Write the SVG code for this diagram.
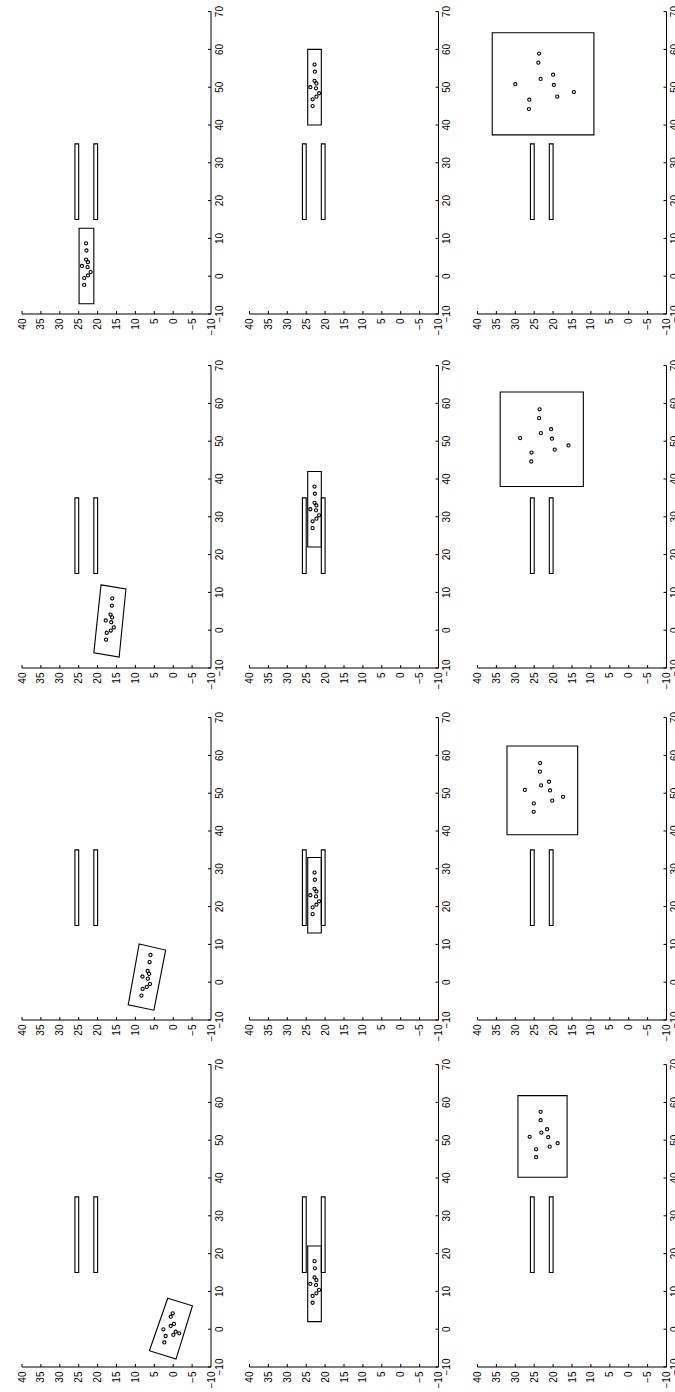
<svg xmlns="http://www.w3.org/2000/svg" xmlns:xlink="http://www.w3.org/1999/xlink" width="675" height="1392" viewBox="0 0 675 1392">
<style>
.ax{stroke:#000;stroke-width:1;fill:none}
.sh{fill:none;stroke:#000;stroke-width:1.1;vector-effect:non-scaling-stroke}
.pt{fill:none;stroke:#000;stroke-width:1.1;vector-effect:non-scaling-stroke}
text{font-family:"Liberation Sans",Arial,sans-serif;font-size:10px;fill:#000}
.xl{text-anchor:middle}
.yl{text-anchor:end}
</style>
<defs>
<g id="axes">
<path class="ax" d="M0,0H302.4M0,0V-189M0,0V-3M37.8,0V-3M75.6,0V-3M113.4,0V-3M151.2,0V-3M189,0V-3M226.8,0V-3M264.6,0V-3M302.4,0V-3M0,-18.9H3M0,-37.8H3M0,-56.7H3M0,-75.6H3M0,-94.5H3M0,-113.4H3M0,-132.3H3M0,-151.2H3M0,-170.1H3M0,-189H3"/>
<text class="xl" x="0" y="11.5">−10</text>
<text class="xl" x="37.8" y="11.5">0</text>
<text class="xl" x="75.6" y="11.5">10</text>
<text class="xl" x="113.4" y="11.5">20</text>
<text class="xl" x="151.2" y="11.5">30</text>
<text class="xl" x="189" y="11.5">40</text>
<text class="xl" x="226.8" y="11.5">50</text>
<text class="xl" x="264.6" y="11.5">60</text>
<text class="xl" x="302.4" y="11.5">70</text>
<text class="yl" x="-4.5" y="3.5">−10</text>
<text class="yl" x="-4.5" y="-15.4">−5</text>
<text class="yl" x="-4.5" y="-34.3">0</text>
<text class="yl" x="-4.5" y="-53.2">5</text>
<text class="yl" x="-4.5" y="-72.1">10</text>
<text class="yl" x="-4.5" y="-91">15</text>
<text class="yl" x="-4.5" y="-109.9">20</text>
<text class="yl" x="-4.5" y="-128.8">25</text>
<text class="yl" x="-4.5" y="-147.7">30</text>
<text class="yl" x="-4.5" y="-166.6">35</text>
<text class="yl" x="-4.5" y="-185.5">40</text>
</g>
<g id="walls">
<rect class="sh" x="15" y="25" width="20" height="1"/>
<rect class="sh" x="15" y="20" width="20" height="1"/>
</g>
<g id="fs">
<circle class="pt" cx="-5" cy="0.55" r="0.42"/>
<circle class="pt" cx="-3.2" cy="0.55" r="0.42"/>
<circle class="pt" cx="0" cy="1.15" r="0.42"/>
<circle class="pt" cx="-2.5" cy="-0.45" r="0.42"/>
<circle class="pt" cx="-1.6" cy="-1.15" r="0.42"/>
<circle class="pt" cx="-0.3" cy="-0.35" r="0.42"/>
<circle class="pt" cx="1" cy="-0.45" r="0.42"/>
<circle class="pt" cx="1.7" cy="0.05" r="0.42"/>
<circle class="pt" cx="4.1" cy="-0.05" r="0.42"/>
<circle class="pt" cx="6" cy="0.05" r="0.42"/>
</g>
</defs>

<g id="p1" transform="translate(211,1367) rotate(-90)">
<use xlink:href="#axes"/>
<g transform="scale(3.78,-3.78) translate(10,10)">
<use xlink:href="#walls"/>
<polygon class="sh" points="8.2,1.45 6.2,-5.1 -7.9,-0.74 -5.7,6.3"/>
<circle class="pt" cx="4.2" cy="0.13" r="0.42"/>
<circle class="pt" cx="3.3" cy="0.66" r="0.42"/>
<circle class="pt" cx="1.4" cy="-0.2" r="0.42"/>
<circle class="pt" cx="0.85" cy="0.66" r="0.42"/>
<circle class="pt" cx="-0.66" cy="-0.66" r="0.42"/>
<circle class="pt" cx="-1.1" cy="-1.6" r="0.42"/>
<circle class="pt" cx="-1.5" cy="-0.03" r="0.42"/>
<circle class="pt" cx="-0.03" cy="2.6" r="0.42"/>
<circle class="pt" cx="-1.8" cy="2.0" r="0.42"/>
<circle class="pt" cx="-3.5" cy="2.35" r="0.42"/>
</g>
</g>

<g id="p2" transform="translate(211,1020) rotate(-90)">
<use xlink:href="#axes"/>
<g transform="scale(3.78,-3.78) translate(10,10)">
<use xlink:href="#walls"/>
<polygon class="sh" points="10.1,9.0 8.5,2.0 -7.4,5.1 -6.0,11.9"/>
<use xlink:href="#fs" transform="translate(1.3,7) rotate(-10)"/>
</g>
</g>

<g id="p3" transform="translate(211,668) rotate(-90)">
<use xlink:href="#axes"/>
<g transform="scale(3.78,-3.78) translate(10,10)">
<use xlink:href="#walls"/>
<polygon class="sh" points="12.0,19.1 10.9,12.5 -7.1,14.3 -6.0,21.0"/>
<use xlink:href="#fs" transform="translate(2.45,16.7) rotate(-6)"/>
</g>
</g>

<g id="p4" transform="translate(211,314) rotate(-90)">
<use xlink:href="#axes"/>
<g transform="scale(3.78,-3.78) translate(10,10)">
<use xlink:href="#walls"/>
<rect class="sh" x="-7.3" y="21" width="20" height="3.9"/>
<use xlink:href="#fs" transform="translate(2.7,23)"/>
</g>
</g>

<g id="p5" transform="translate(438.5,1367) rotate(-90)">
<use xlink:href="#axes"/>
<g transform="scale(3.78,-3.78) translate(10,10)">
<use xlink:href="#walls"/>
<rect class="sh" x="2" y="21" width="20" height="3.6"/>
<use xlink:href="#fs" transform="translate(12,22.75)"/>
</g>
</g>

<g id="p6" transform="translate(438.5,1020) rotate(-90)">
<use xlink:href="#axes"/>
<g transform="scale(3.78,-3.78) translate(10,10)">
<use xlink:href="#walls"/>
<rect class="sh" x="13" y="21" width="20" height="3.6"/>
<use xlink:href="#fs" transform="translate(23,22.75)"/>
</g>
</g>

<g id="p7" transform="translate(438.5,668) rotate(-90)">
<use xlink:href="#axes"/>
<g transform="scale(3.78,-3.78) translate(10,10)">
<use xlink:href="#walls"/>
<rect class="sh" x="22" y="21" width="20" height="3.6"/>
<use xlink:href="#fs" transform="translate(32,22.75)"/>
</g>
</g>

<g id="p8" transform="translate(438.5,314) rotate(-90)">
<use xlink:href="#axes"/>
<g transform="scale(3.78,-3.78) translate(10,10)">
<use xlink:href="#walls"/>
<rect class="sh" x="40" y="21" width="20" height="3.6"/>
<use xlink:href="#fs" transform="translate(50,22.75)"/>
</g>
</g>

<g id="p9" transform="translate(666.5,1367) rotate(-90)">
<use xlink:href="#axes"/>
<g transform="scale(3.78,-3.78) translate(10,10)">
<use xlink:href="#walls"/>
<rect class="sh" x="40.2" y="16.3" width="21.6" height="13"/>
<circle class="pt" cx="50.9" cy="26.2" r="0.42"/>
<circle class="pt" cx="47.6" cy="24.5" r="0.42"/>
<circle class="pt" cx="45.5" cy="24.5" r="0.42"/>
<circle class="pt" cx="57.5" cy="23.3" r="0.42"/>
<circle class="pt" cx="55.3" cy="23.3" r="0.42"/>
<circle class="pt" cx="52.0" cy="23.1" r="0.42"/>
<circle class="pt" cx="52.9" cy="21.6" r="0.42"/>
<circle class="pt" cx="50.8" cy="21.3" r="0.42"/>
<circle class="pt" cx="48.3" cy="20.9" r="0.42"/>
<circle class="pt" cx="49.2" cy="18.8" r="0.42"/>
</g>
</g>

<g id="p10" transform="translate(666.5,1020) rotate(-90)">
<use xlink:href="#axes"/>
<g transform="scale(3.78,-3.78) translate(10,10)">
<use xlink:href="#walls"/>
<rect class="sh" x="39" y="13.5" width="23.5" height="18.7"/>
<circle class="pt" cx="50.87" cy="27.47" r="0.42"/>
<circle class="pt" cx="47.3" cy="25.1" r="0.42"/>
<circle class="pt" cx="45.07" cy="25.13" r="0.42"/>
<circle class="pt" cx="57.97" cy="23.43" r="0.42"/>
<circle class="pt" cx="55.7" cy="23.5" r="0.42"/>
<circle class="pt" cx="52.07" cy="23.17" r="0.42"/>
<circle class="pt" cx="53.03" cy="21.07" r="0.42"/>
<circle class="pt" cx="50.73" cy="20.8" r="0.42"/>
<circle class="pt" cx="48.03" cy="20.23" r="0.42"/>
<circle class="pt" cx="49.03" cy="17.37" r="0.42"/>
</g>
</g>

<g id="p11" transform="translate(666.5,668) rotate(-90)">
<use xlink:href="#axes"/>
<g transform="scale(3.78,-3.78) translate(10,10)">
<use xlink:href="#walls"/>
<rect class="sh" x="38" y="12" width="25" height="22"/>
<circle class="pt" cx="50.83" cy="28.73" r="0.42"/>
<circle class="pt" cx="47.0" cy="25.7" r="0.42"/>
<circle class="pt" cx="44.63" cy="25.77" r="0.42"/>
<circle class="pt" cx="58.43" cy="23.57" r="0.42"/>
<circle class="pt" cx="56.1" cy="23.7" r="0.42"/>
<circle class="pt" cx="52.13" cy="23.23" r="0.42"/>
<circle class="pt" cx="53.17" cy="20.53" r="0.42"/>
<circle class="pt" cx="50.67" cy="20.3" r="0.42"/>
<circle class="pt" cx="47.77" cy="19.57" r="0.42"/>
<circle class="pt" cx="48.87" cy="15.93" r="0.42"/>
</g>
</g>

<g id="p12" transform="translate(666.5,314) rotate(-90)">
<use xlink:href="#axes"/>
<g transform="scale(3.78,-3.78) translate(10,10)">
<use xlink:href="#walls"/>
<rect class="sh" x="37.4" y="9.2" width="27" height="26.9"/>
<circle class="pt" cx="50.8" cy="30.0" r="0.42"/>
<circle class="pt" cx="46.7" cy="26.3" r="0.42"/>
<circle class="pt" cx="44.2" cy="26.4" r="0.42"/>
<circle class="pt" cx="58.9" cy="23.7" r="0.42"/>
<circle class="pt" cx="56.5" cy="23.9" r="0.42"/>
<circle class="pt" cx="52.2" cy="23.3" r="0.42"/>
<circle class="pt" cx="53.3" cy="20.0" r="0.42"/>
<circle class="pt" cx="50.6" cy="19.8" r="0.42"/>
<circle class="pt" cx="47.5" cy="18.9" r="0.42"/>
<circle class="pt" cx="48.7" cy="14.5" r="0.42"/>
</g>
</g>
</svg>
